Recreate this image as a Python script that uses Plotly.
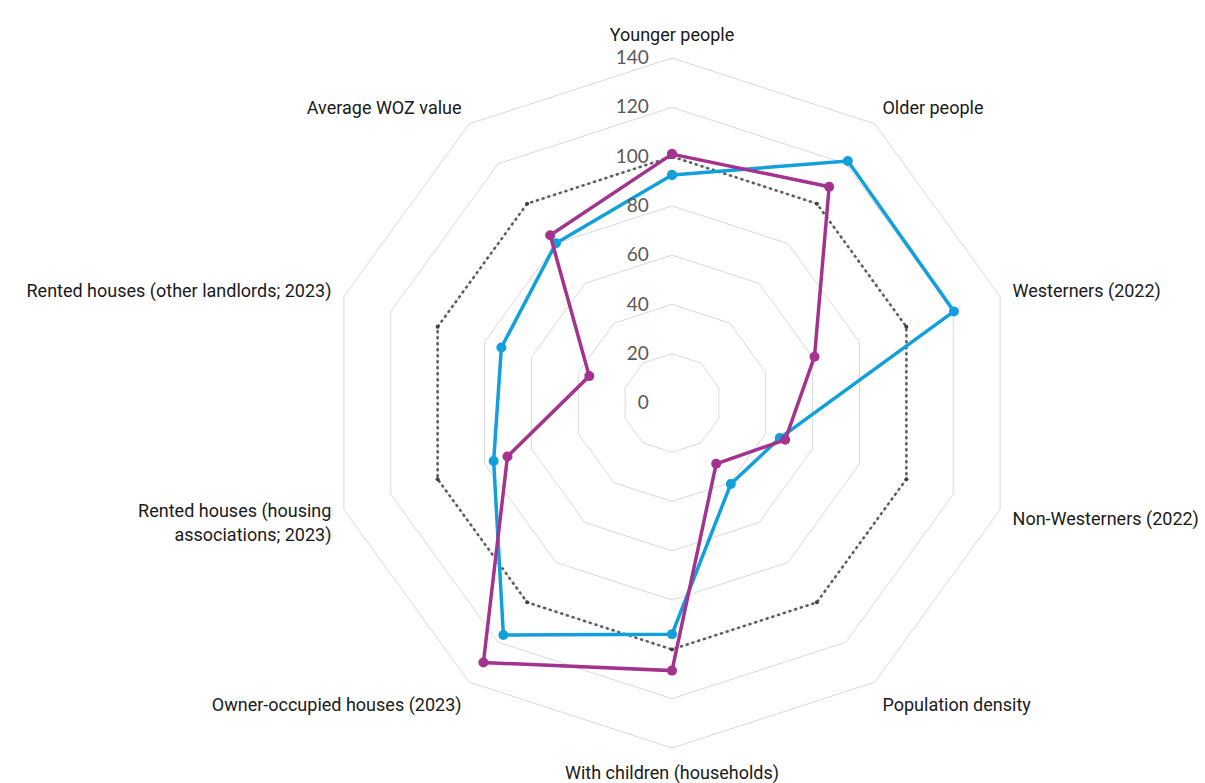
import plotly.graph_objects as go

categories = [
    "Younger people", "Older people", "Westerners (2022)", "Non-Westerners (2022)",
    "Population density", "With children (households)", "Owner-occupied houses (2023)",
    "Rented houses (housing<br>associations; 2023)", "Rented houses (other landlords; 2023)",
    "Average WOZ value",
]
reference = [100, 100, 100, 100, 100, 100, 100, 100, 100, 100]
blue_values = [92.5, 121.4, 120.3, 46, 40.6, 93.8, 116.4, 76.1, 72.8, 80.1]
purple_values = [101, 108.5, 60.8, 48.3, 30.5, 108.6, 130.2, 70.2, 35.3, 84.1]
radial_ticks = [0, 20, 40, 60, 80, 100, 120, 140]


def closed(v):
    return list(v) + [v[0]]


theta = closed(categories)

fig = go.Figure()
fig.add_trace(go.Scatterpolar(
    r=closed(reference), theta=theta, mode="lines+markers",
    line=dict(color="#595959", width=2.5, dash="dot"),
    marker=dict(size=4, color="#404040"), name="Reference",
))
fig.add_trace(go.Scatterpolar(
    r=closed(blue_values), theta=theta, mode="lines+markers",
    line=dict(color="#11A0DB", width=3.5),
    marker=dict(size=10, color="#11A0DB"), name="Area",
))
fig.add_trace(go.Scatterpolar(
    r=closed(purple_values), theta=theta, mode="lines+markers",
    line=dict(color="#A4338F", width=3.5),
    marker=dict(size=10, color="#A4338F"), name="Neighbourhood",
))

fig.update_layout(
    width=1205, height=783,
    margin=dict(l=139, r=0, t=58, b=35),
    paper_bgcolor="white",
    showlegend=False,
    polar=dict(
        bgcolor="white",
        gridshape="linear",
        radialaxis=dict(
            range=[0, 140], tickvals=radial_ticks, angle=90, tickangle=90,
            side="counterclockwise", showline=False,
            gridcolor="#d9d9d9", gridwidth=1,
            ticks="outside", ticklen=16, tickcolor="rgba(0,0,0,0)",
            tickfont=dict(family="Lato", size=19, color="#595959"),
        ),
        angularaxis=dict(
            rotation=90, direction="clockwise",
            showgrid=False, linecolor="#d9d9d9", linewidth=1,
            ticks="outside", ticklen=9, tickcolor="rgba(0,0,0,0)",
            tickfont=dict(family="Roboto", size=18, color="#1a1a1a"),
        ),
    ),
)

fig.write_html("out.html")
